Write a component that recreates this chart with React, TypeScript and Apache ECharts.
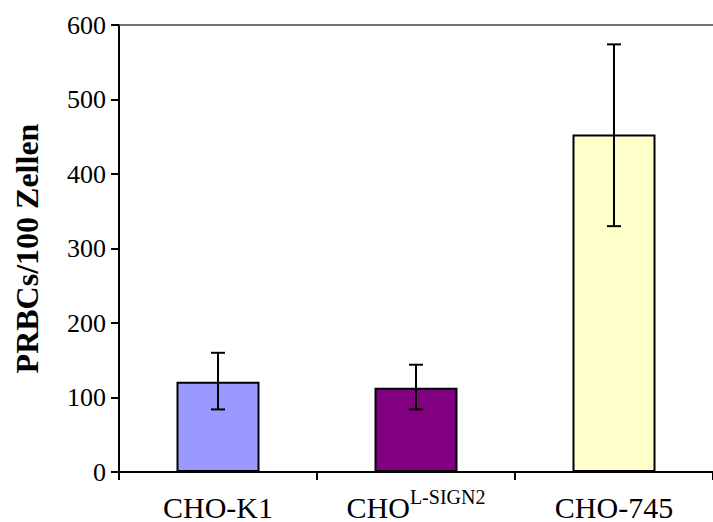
import React, { useEffect, useRef } from "react";
import * as echarts from "echarts";

const categories = ["CHO-K1", "CHO^L-SIGN2", "CHO-745"];
const values = [121, 113, 453];
const errLow = [84, 84, 330];
const errHigh = [160, 144, 574];
const barColors = ["#9999FF", "#800080", "#FFFFCC"];
const yTicks = { min: 0, max: 600, interval: 100 };
const yTitle = "PRBCs/100 Zellen";

const FONT = "'Liberation Serif', 'Times New Roman', serif";

export default function App() {
  const ref = useRef<HTMLDivElement>(null);
  useEffect(() => {
    if (!ref.current) return;
    const chart = echarts.init(ref.current, null, { renderer: "svg" });
    chart.setOption({
      animation: false,
      backgroundColor: "#ffffff",
      grid: { left: 119, top: 25, width: 603, height: 451, containLabel: false },
      xAxis: [
        {
          type: "category",
          data: categories,
          position: "bottom",
          axisLine: { lineStyle: { color: "#000", width: 2 } },
          axisTick: { show: true, length: 8, lineStyle: { color: "#000", width: 2 } },
          axisLabel: {
            interval: 0,
            color: "#000",
            fontFamily: FONT,
            fontSize: 30,
            margin: 15,
            formatter: (v: string) => {
              const i = v.indexOf("^");
              if (i < 0) return "{m|" + v + "}";
              return "{m|" + v.slice(0, i) + "}{s|" + v.slice(i + 1) + "}";
            },
            rich: {
              m: { fontFamily: FONT, fontSize: 30, color: "#000", lineHeight: 35, verticalAlign: "bottom" },
              s: { fontFamily: FONT, fontSize: 20, color: "#000", lineHeight: 35, verticalAlign: "top", padding: [0, 0, 12, 0] },
            },
          },
          splitLine: { show: false },
        },
        {
          type: "category",
          data: categories,
          position: "top",
          axisLine: { lineStyle: { color: "#444", width: 1.5 } },
          axisTick: { show: false },
          axisLabel: { show: false },
          splitLine: { show: false },
        },
      ],
      yAxis: {
        type: "value",
        min: yTicks.min,
        max: yTicks.max,
        interval: yTicks.interval,
        name: yTitle,
        nameLocation: "middle",
        nameGap: 76,
        nameRotate: 90,
        nameTextStyle: { fontFamily: FONT, fontSize: 32, fontWeight: "bold", color: "#000" },
        axisLine: { show: true, lineStyle: { color: "#000", width: 2 } },
        axisTick: { show: true, length: 8, lineStyle: { color: "#000", width: 2 } },
        axisLabel: { color: "#000", fontFamily: FONT, fontSize: 26, margin: 13 },
        splitLine: { show: false },
      },
      series: [
        {
          type: "bar",
          barWidth: 83,
          data: values.map((v, i) => ({
            value: v,
            itemStyle: { color: barColors[i], borderColor: "#000", borderWidth: 2 },
          })),
        },
        {
          type: "custom",
          data: values.map((_, i) => [i, errLow[i], errHigh[i]]),
          renderItem: (params: any, api: any) => {
            const x = api.value(0);
            const lo = api.coord([x, api.value(1)]);
            const hi = api.coord([x, api.value(2)]);
            const cap = 7;
            const style = { stroke: "#000", lineWidth: 2 };
            return {
              type: "group",
              children: [
                { type: "line", shape: { x1: lo[0], y1: lo[1], x2: hi[0], y2: hi[1] }, style },
                { type: "line", shape: { x1: lo[0] - cap, y1: lo[1], x2: lo[0] + cap, y2: lo[1] }, style },
                { type: "line", shape: { x1: hi[0] - cap, y1: hi[1], x2: hi[0] + cap, y2: hi[1] }, style },
              ],
            };
          },
          z: 5,
        },
      ],
    });
    return () => chart.dispose();
  }, []);
  return (
    <div
      ref={ref}
      style={{ position: "fixed", left: 0, top: 0, width: 713, height: 522, background: "#fff" }}
    />
  );
}
